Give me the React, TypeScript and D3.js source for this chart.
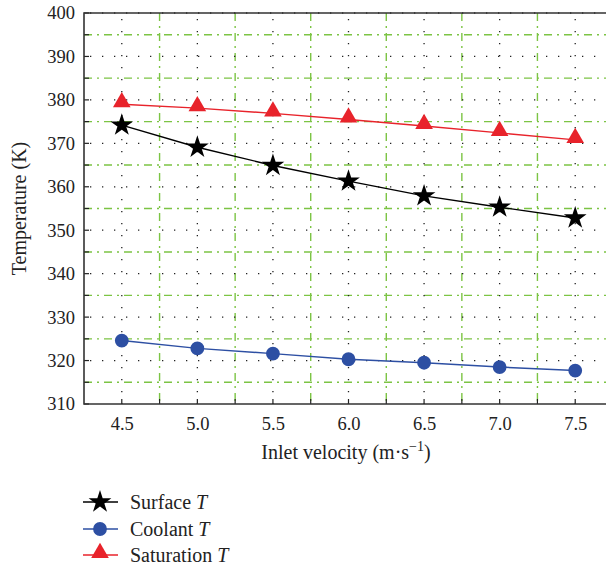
import React, { useEffect, useRef } from "react";
import * as d3 from "d3";

// inlet velocity (m/s)
const velocity = [4.5, 5.0, 5.5, 6.0, 6.5, 7.0, 7.5];
// temperatures (K)
const surfaceT = [374.2, 369.1, 364.9, 361.3, 357.9, 355.3, 352.8];
const coolantT = [324.6, 322.8, 321.6, 320.3, 319.5, 318.5, 317.7];
const saturationT = [379.0, 378.1, 376.9, 375.5, 374.0, 372.4, 370.8];

const xTicks = [4.5, 5.0, 5.5, 6.0, 6.5, 7.0, 7.5];
const xMinor = [4.75, 5.25, 5.75, 6.25, 6.75, 7.25, 7.75];
const yTicks = [310, 320, 330, 340, 350, 360, 370, 380, 390, 400];
const yMinor = [315, 325, 335, 345, 355, 365, 375, 385, 395];

const seriesNames = ["Surface", "Coolant", "Saturation"];

const FONT = "'Liberation Serif', 'DejaVu Serif', serif";

function App() {
  const svgRef = useRef<SVGSVGElement>(null);

  useEffect(() => {
    const w = 606;
    const h = 567;
    const svg = d3.select(svgRef.current).attr("width", w).attr("height", h);
    svg.selectAll("*").remove();

    const left = 84, top = 13, bottom = 404;
    const x = d3.scaleLinear().domain([4.25, 7.75]).range([left, 613]);
    const y = d3.scaleLinear().domain([310, 400]).range([bottom, top]);

    const grid = svg.append("g");
    const green = "#7cc444";

    // green dash-dot grid at half steps
    grid.selectAll(".gx").data(xMinor).enter().append("line")
      .attr("x1", (d) => x(d)).attr("x2", (d) => x(d))
      .attr("y1", top).attr("y2", bottom)
      .attr("stroke", green).attr("stroke-width", 1.4)
      .attr("stroke-dasharray", "8,5,2,5");
    grid.selectAll(".gy").data(yMinor).enter().append("line")
      .attr("x1", left).attr("x2", w)
      .attr("y1", (d) => y(d)).attr("y2", (d) => y(d))
      .attr("stroke", green).attr("stroke-width", 1.4)
      .attr("stroke-dasharray", "8,5,2,5");

    // black dotted grid at major ticks
    grid.selectAll(".dx").data(xTicks).enter().append("line")
      .attr("x1", (d) => x(d)).attr("x2", (d) => x(d))
      .attr("y1", top + 6).attr("y2", bottom)
      .attr("stroke", "#222").attr("stroke-width", 1.3)
      .attr("stroke-dasharray", "1.3,10.7");
    grid.selectAll(".dy").data(yTicks.slice(1)).enter().append("line")
      .attr("x1", left + 6).attr("x2", w)
      .attr("y1", (d) => y(d)).attr("y2", (d) => y(d))
      .attr("stroke", "#222").attr("stroke-width", 1.3)
      .attr("stroke-dasharray", "1.3,10.7");

    // axes
    const xAxis = d3.axisBottom(x).tickValues(xTicks).tickSize(0).tickPadding(13)
      .tickFormat(d3.format(".1f"));
    const gx = svg.append("g").attr("transform", `translate(0,${bottom})`).call(xAxis);
    gx.select(".domain").remove();
    gx.selectAll("text").attr("font-family", FONT).attr("font-size", 18.5).attr("fill", "#222");

    const yAxis = d3.axisLeft(y).tickValues(yTicks).tickSize(0).tickPadding(9);
    const gy = svg.append("g").attr("transform", `translate(${left},0)`).call(yAxis);
    gy.select(".domain").remove();
    gy.selectAll("text").attr("font-family", FONT).attr("font-size", 18.5).attr("fill", "#222");

    // inward ticks
    const tk = svg.append("g").attr("stroke", "#222").attr("stroke-width", 1.2);
    tk.selectAll(".tx").data([...xTicks, ...xMinor]).enter().append("line")
      .attr("x1", (d) => x(d)).attr("x2", (d) => x(d))
      .attr("y1", bottom).attr("y2", bottom - 5);
    tk.selectAll(".ty").data([...yTicks, ...yMinor]).enter().append("line")
      .attr("x1", left).attr("x2", left + 5)
      .attr("y1", (d) => y(d)).attr("y2", (d) => y(d));

    // frame
    svg.append("path")
      .attr("d", `M${w},${top}H${left}V${bottom}H${w}`)
      .attr("fill", "none").attr("stroke", "#333").attr("stroke-width", 1.6);

    const star = d3.symbol().type(d3.symbolStar).size(160);
    const circle = d3.symbol().type(d3.symbolCircle).size(150);
    const tri = d3.symbol().type(d3.symbolTriangle).size(135);

    const series = [
      { values: surfaceT, color: "#000000", sym: star, dy: 0 },
      { values: coolantT, color: "#2d4fa3", sym: circle, dy: 0 },
      { values: saturationT, color: "#e8232b", sym: tri, dy: -2 },
    ];

    const line = d3.line<number>()
      .x((_, i) => x(velocity[i]))
      .y((d) => y(d));

    series.forEach((s) => {
      svg.append("path").datum(s.values)
        .attr("d", line).attr("fill", "none")
        .attr("stroke", s.color).attr("stroke-width", 1.4);
      svg.append("g").selectAll("path").data(s.values).enter().append("path")
        .attr("d", s.sym)
        .attr("transform", (d, i) => `translate(${x(velocity[i])},${y(d) + s.dy})`)
        .attr("fill", s.color);
    });

    // axis titles
    svg.append("text")
      .attr("transform", `translate(26,${(top + bottom) / 2}) rotate(-90)`)
      .attr("text-anchor", "middle")
      .attr("font-family", FONT).attr("font-size", 20).attr("fill", "#222")
      .text("Temperature (K)");

    const xl = svg.append("text")
      .attr("x", 346).attr("y", 459)
      .attr("text-anchor", "middle")
      .attr("font-family", FONT).attr("font-size", 20).attr("fill", "#222");
    xl.append("tspan").text("Inlet velocity (m·s");
    xl.append("tspan").attr("dy", -8).attr("font-size", 14).text("−1");
    xl.append("tspan").attr("dy", 8).text(")");

    // legend
    const legY = [502, 529, 555];
    const leg = svg.append("g");
    series.forEach((s, i) => {
      const g = leg.append("g").attr("transform", `translate(0,${legY[i]})`);
      g.append("line").attr("x1", 83).attr("x2", 118)
        .attr("stroke", s.color).attr("stroke-width", 1.4);
      g.append("path").attr("d", s.sym).attr("transform", `translate(100,${s.dy})`)
        .attr("fill", s.color);
      const t = g.append("text").attr("x", 130).attr("y", 7)
        .attr("font-family", FONT).attr("font-size", 20).attr("fill", "#222");
      t.append("tspan").text(seriesNames[i] + " ");
      t.append("tspan").attr("font-style", "italic").text("T");
    });
  }, []);

  return (
    <div style={{ position: "absolute", left: 0, top: 0 }}>
      <svg ref={svgRef} style={{ display: "block" }}></svg>
    </div>
  );
}

export default App;
